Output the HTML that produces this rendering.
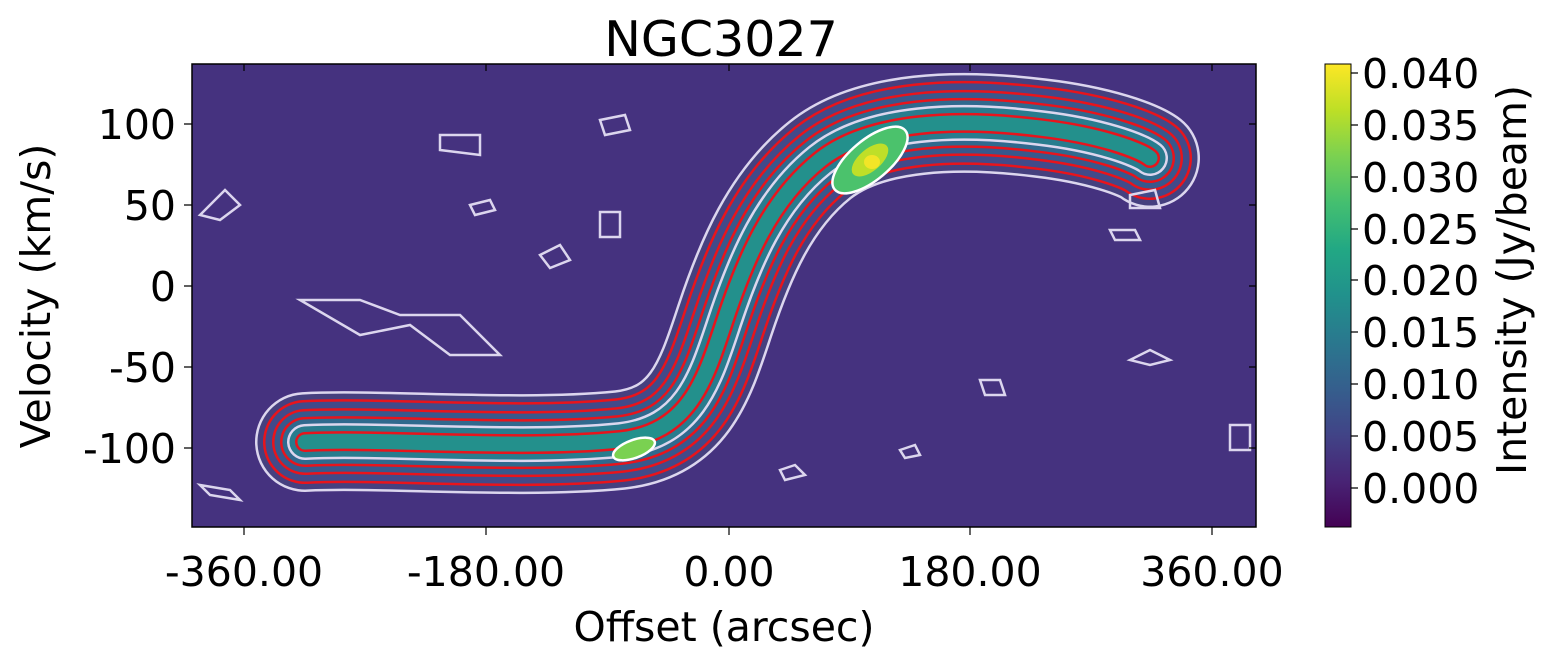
<!DOCTYPE html>
<html><head><meta charset="utf-8"><style>
body{margin:0;background:#fff;}
svg text{font-family:"DejaVu Sans","Liberation Sans",sans-serif;fill:#000;}
</style></head><body>
<svg width="1547" height="667" viewBox="0 0 1547 667" xmlns="http://www.w3.org/2000/svg">
<defs>
<clipPath id="c"><rect x="192" y="64" width="1064" height="463"/></clipPath>
<linearGradient id="cb" x1="0" y1="1" x2="0" y2="0">
<stop offset="0" stop-color="#440154"/><stop offset="0.1" stop-color="#482475"/>
<stop offset="0.2" stop-color="#414487"/><stop offset="0.3" stop-color="#355f8d"/>
<stop offset="0.4" stop-color="#2a788e"/><stop offset="0.5" stop-color="#21918c"/>
<stop offset="0.6" stop-color="#22a884"/><stop offset="0.7" stop-color="#44bf70"/>
<stop offset="0.8" stop-color="#7ad151"/><stop offset="0.9" stop-color="#bddf26"/>
<stop offset="1" stop-color="#fde725"/></linearGradient>
</defs>
<g clip-path="url(#c)">
<rect x="192" y="64" width="1064" height="463" fill="#45327f"/>
<g fill="none" stroke-linecap="round" stroke-linejoin="round">
<path id="s" d="M305,442 C380,438 520,450 620,440 C690,432 705,380 725,320 C745,260 770,200 820,160 C870,120 960,118 1040,128 C1100,135 1140,150 1150,158"/>
<use href="#s" stroke="#dcd6ee" stroke-width="100"/>
<use href="#s" stroke="#46407f" stroke-width="95"/>
<use href="#s" stroke="#e8141c" stroke-width="84"/>
<use href="#s" stroke="#424a89" stroke-width="79"/>
<use href="#s" stroke="#e8141c" stroke-width="66"/>
<use href="#s" stroke="#38588c" stroke-width="61"/>
<use href="#s" stroke="#e8141c" stroke-width="50"/>
<use href="#s" stroke="#30698e" stroke-width="45"/>
<use href="#s" stroke="#dcd6ee" stroke-width="36"/>
<use href="#s" stroke="#287c8e" stroke-width="31"/>
<use href="#s" stroke="#e8141c" stroke-width="20"/>
<use href="#s" stroke="#23908c" stroke-width="15"/>
</g>
<ellipse cx="870" cy="160" rx="46" ry="20" transform="rotate(-40 870 160)" fill="#4bc26c" stroke="#fff" stroke-width="2.5"/>
<ellipse cx="870" cy="160" rx="22" ry="11" transform="rotate(-40 870 160)" fill="#bfdf28"/>
<ellipse cx="872" cy="162" rx="8" ry="7" fill="#f2e527"/>
<ellipse cx="634" cy="449" rx="22" ry="9" transform="rotate(-20 634 449)" fill="#7ad151" stroke="#fff" stroke-width="2.5"/>
<g fill="none" stroke="#dcd6ee" stroke-width="2.5">
<path d="M200,215 l25,-25 l15,15 l-20,15z M300,300 l60,0 l40,15 l60,0 l40,40 l-50,0 l-40,-30 l-50,10z M540,255 l20,-10 l10,15 l-20,8z M600,212 l20,0 l0,25 l-20,0z M600,120 l25,-5 l5,15 l-25,5z M440,135 l40,0 l0,20 l-40,-5z M1130,195 l25,-5 l5,18 l-30,0z M900,450 l15,-5 l5,10 l-15,3z M1170,360 l-20,-10 l-20,10 l20,5z M1230,425 l20,0 l0,25 l-20,0z M1110,230 l25,0 l5,10 l-25,0z M470,205 l20,-5 l5,10 l-20,5z M980,380 l20,0 l5,15 l-20,0z M780,470 l15,-5 l10,10 l-20,5z M200,485 l30,5 l10,10 l-30,-5z"/>
</g>
</g>
<rect x="192" y="64" width="1064" height="463" fill="none" stroke="#000" stroke-width="1.5"/>
<g stroke="#000" stroke-width="1.2">
<path d="M244,527v8M486,527v8M729,527v8M970,527v8M1212,527v8"/>
<path d="M244,64v7M486,64v7M729,64v7M970,64v7M1212,64v7"/>
<path d="M192,124h-8M192,205h-8M192,286h-8M192,367h-8M192,448h-8"/>
<path d="M1256,124h-7M1256,205h-7M1256,286h-7M1256,367h-7M1256,448h-7"/>
</g>
<g font-size="41" text-anchor="middle">
<text x="244" y="586">-360.00</text><text x="486" y="586">-180.00</text>
<text x="729" y="586">0.00</text><text x="970" y="586">180.00</text><text x="1212" y="586">360.00</text>
<text x="724" y="641">Offset (arcsec)</text>
<text x="721" y="56" font-size="49">NGC3027</text>
</g>
<g font-size="41" text-anchor="end">
<text x="176" y="139">100</text><text x="176" y="220">50</text><text x="176" y="301">0</text>
<text x="176" y="382">-50</text><text x="176" y="463">-100</text>
</g>
<text transform="translate(50,296) rotate(-90)" font-size="41" text-anchor="middle">Velocity (km/s)</text>
<rect x="1325" y="64" width="26" height="463" fill="url(#cb)" stroke="#000" stroke-width="1"/>
<g stroke="#000" stroke-width="1.2">
<path d="M1351,73h7M1351,125h7M1351,177h7M1351,229h7M1351,280h7M1351,332h7M1351,384h7M1351,436h7M1351,488h7"/>
</g>
<g font-size="41">
<text x="1362" y="88">0.040</text><text x="1362" y="140">0.035</text><text x="1362" y="192">0.030</text>
<text x="1362" y="244">0.025</text><text x="1362" y="295">0.020</text><text x="1362" y="347">0.015</text>
<text x="1362" y="399">0.010</text><text x="1362" y="451">0.005</text><text x="1362" y="503">0.000</text>
</g>
<text transform="translate(1526,280) rotate(-90)" font-size="41" text-anchor="middle">Intensity (Jy/beam)</text>
</svg>
</body></html>
